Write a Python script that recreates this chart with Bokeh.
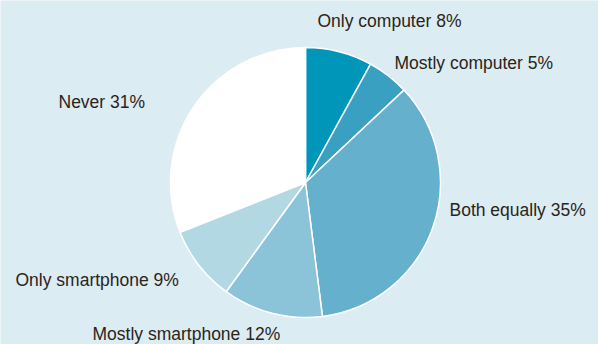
import math
from bokeh.plotting import figure
from bokeh.models import Range1d, ColumnDataSource
from bokeh.core.properties import value
from bokeh.embed import file_html
from bokeh.resources import INLINE

# Data
categories = ["Only computer", "Mostly computer", "Both equally",
              "Mostly smartphone", "Only smartphone", "Never"]
shares = [8, 5, 35, 12, 9, 31]
colors = ["#0096b9", "#3aa0c2", "#65b0cd", "#8bc3d8", "#b2d8e4", "#ffffff"]

# Layout (figure pixel coordinates, y up from bottom)
W, H = 598, 344
cx, cy, r = 305, 162, 135
label_x = [317, 394, 449, 92, 15, 58]
label_y = [324, 282, 135, 11, 65, 243]

p = figure(width=W, height=H, output_backend="svg", toolbar_location=None,
           x_range=Range1d(0, W), y_range=Range1d(0, H),
           min_border=0, outline_line_color=None,
           background_fill_color="#dcecf3", border_fill_color="#dcecf3")
p.axis.visible = False
p.grid.visible = False

total = sum(shares)
starts, ends = [], []
cum = 0
for v in shares:
    a0 = math.pi / 2 - 2 * math.pi * (cum + v) / total
    a1 = math.pi / 2 - 2 * math.pi * cum / total
    starts.append(a0)
    ends.append(a1)
    cum += v

src = ColumnDataSource(dict(start=starts, end=ends, color=colors,
                            x=[cx] * len(shares), y=[cy] * len(shares)))
p.wedge(x="x", y="y", radius=r, start_angle="start", end_angle="end",
        fill_color="color", line_color="white", line_width=1.5, source=src)

labels = [f"{c} {v}%" for c, v in zip(categories, shares)]
p.text(x=label_x, y=label_y, text=labels, text_font=value("Liberation Sans"),
       text_font_size="17.5px", text_color="#2b2419", text_baseline="middle",
       text_align="left")

open("out.html", "w").write(file_html(p, INLINE))
